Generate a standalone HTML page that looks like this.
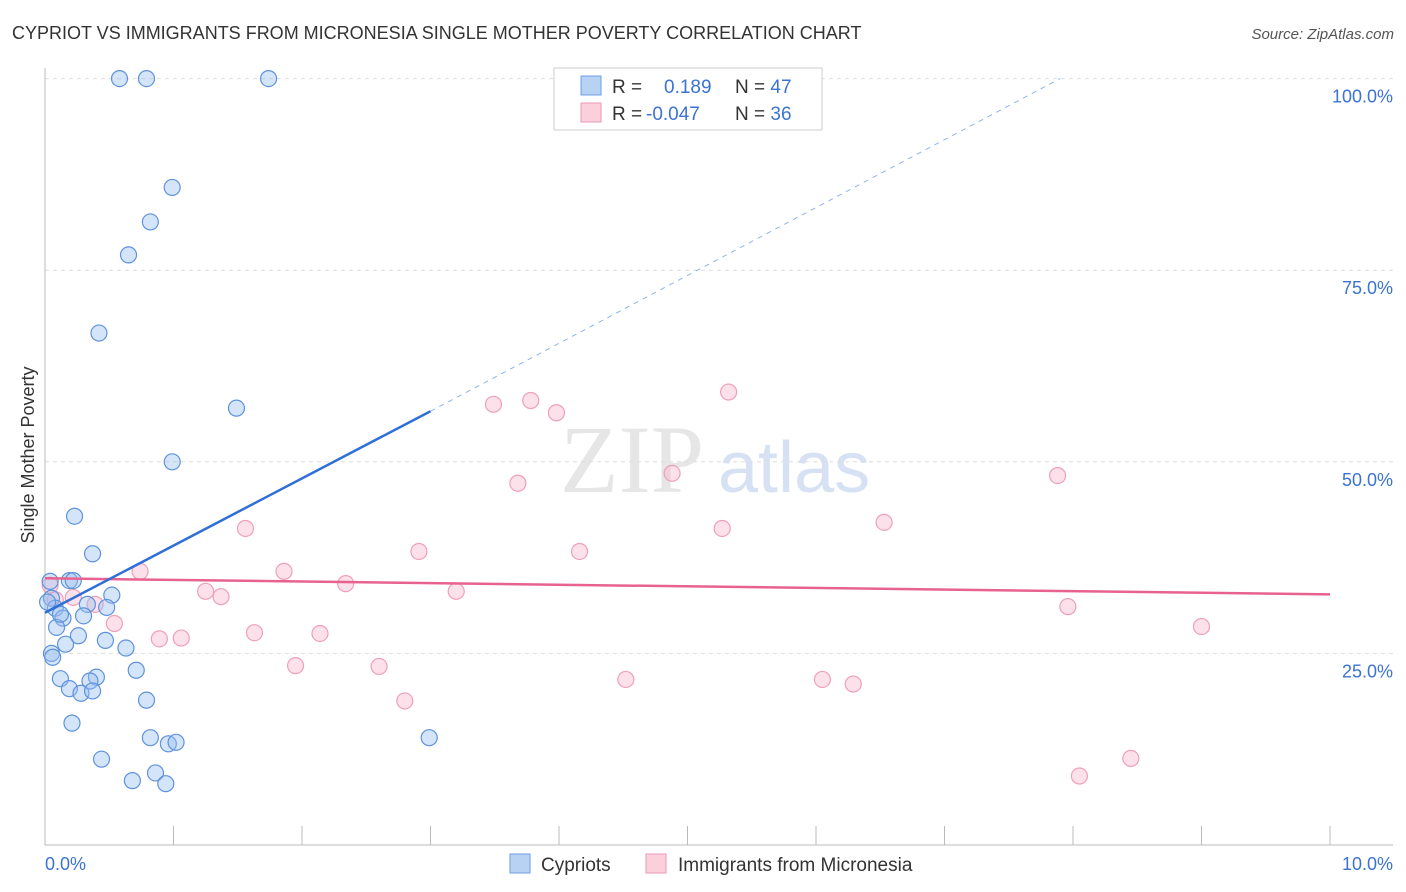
<!DOCTYPE html>
<html><head><meta charset="utf-8"><style>
body{margin:0;background:#fff;font-family:"Liberation Sans",sans-serif;}
svg{display:block}
</style></head><body>
<svg id="chart" width="1406" height="892">
<text x="12" y="39" font-size="18" fill="#333">CYPRIOT VS IMMIGRANTS FROM MICRONESIA SINGLE MOTHER POVERTY CORRELATION CHART</text>
<text x="1394" y="39" font-size="15" fill="#555" font-style="italic" text-anchor="end">Source: ZipAtlas.com</text>
<text transform="translate(34,455) rotate(-90)" font-size="18" fill="#333" text-anchor="middle">Single Mother Poverty</text>
<text x="560" y="492" font-size="96" fill="#e6e6e6" font-family="Liberation Serif,serif">ZIP</text>
<text x="718" y="492" font-size="72" fill="#d6e2f3">atlas</text>
<g id="grid"></g><g id="marks"></g>
<g>
<rect x="554" y="68" width="268" height="62" fill="#fff" stroke="#ccc"/>
<rect x="581" y="76" width="20" height="19" fill="#b8d2f4" stroke="#6f9fe0"/>
<rect x="581" y="103" width="20" height="19" fill="#fbcfdc" stroke="#ee9ab4"/>
<text x="612" y="93" font-size="19" fill="#333">R = <tspan x="664" fill="#3b73d1">0.189</tspan><tspan x="735" fill="#333">N = </tspan><tspan fill="#3b73d1">47</tspan></text>
<text x="612" y="120" font-size="19" fill="#333">R = <tspan x="646" fill="#3b73d1">-0.047</tspan><tspan x="735" fill="#333">N = </tspan><tspan fill="#3b73d1">36</tspan></text>
</g>
<g>
<rect x="510" y="854" width="20" height="19" fill="#b8d2f4" stroke="#6f9fe0"/>
<text x="541" y="871" font-size="19" fill="#333">Cypriots</text>
<rect x="646" y="854" width="20" height="19" fill="#fbcfdc" stroke="#ee9ab4"/>
<text x="678" y="871" font-size="19" fill="#333">Immigrants from Micronesia</text>
</g>
</svg>
<script>
const xTicks=[0,1,2,3,4,5,6,7,8,9,10];
const yTicks=[25,50,75,100];
const blueX=[0.58,0.79,1.74,0.99,0.82,0.65,0.42,1.49,0.99,0.23,0.37,0.19,0.22,0.05,0.52,0.33,0.48,0.08,0.30,0.14,0.09,0.26,0.47,0.16,0.63,0.05,0.06,0.71,0.40,0.12,0.35,0.19,0.28,0.37,0.79,0.21,0.82,2.99,0.96,1.02,0.44,0.86,0.68,0.94,0.02,0.04,0.12];
const blueY=[100,100,100,85.8,81.3,77,66.8,57,50,42.9,38,34.5,34.5,32.2,32.6,31.4,31,30.9,29.9,29.6,28.4,27.3,26.7,26.2,25.7,25,24.5,22.8,21.9,21.7,21.4,20.4,19.8,20.1,18.9,15.9,14,14,13.2,13.4,11.2,9.4,8.4,8,31.7,34.4,30.1];
const pinkX=[0.04,0.08,0.22,0.39,0.54,0.74,0.89,1.06,1.25,1.37,1.56,1.63,1.86,1.95,2.14,2.34,2.6,2.8,2.91,3.2,3.49,3.68,3.78,3.98,4.16,4.52,4.88,5.27,5.32,6.05,6.29,6.53,7.88,7.96,8.05,8.45,9.0];
const pinkY=[33.9,32,32.3,31.4,28.9,35.7,26.9,27,33.1,32.4,41.3,27.7,35.7,23.4,27.6,34.1,23.3,18.8,38.3,33.1,57.5,47.2,58,56.4,38.3,21.6,48.5,41.3,59.1,21.6,21,42.1,48.2,31.1,9,11.3,28.5];
const blueTrend=[[0,30.3],[3,56.6]], blueDash=[[3,56.6],[7.9,100]];
const pinkTrend=[[0,34.8],[10,32.7]];
const X=v=>45+v*128.5, Y=v=>845-v*7.664;
const NS='http://www.w3.org/2000/svg';
const g=document.getElementById('grid'), m=document.getElementById('marks');
function mk(p,tag,a){const e=document.createElementNS(NS,tag);for(const k in a)e.setAttribute(k,a[k]);p.appendChild(e);return e;}
yTicks.forEach(t=>{
 const l=mk(g,'line',{x1:45,x2:1393,y1:Y(t),y2:Y(t),stroke:'#ddd','stroke-dasharray':'4,4'});
 
 
 const tx=mk(g,'text',{x:1393,y:Y(t)+24,'font-size':18,fill:'#3b73d1','text-anchor':'end'});tx.textContent=t.toFixed(1)+'%';
 
 
});
const ya=mk(g,'line',{x1:45,x2:45,y1:68,y2:845,stroke:'#bbb'});


const xa=mk(g,'line',{x1:45,x2:1393,y1:845,y2:845,stroke:'#bbb'});


xTicks.forEach(t=>{
 const l=mk(g,'line',{x1:X(t),x2:X(t),y1:826,y2:845,stroke:'#bbb'});
 
 
});
[[0,'0.0%','start',45],[10,'10.0%','end',1393]].forEach(d=>{
 const tx=mk(g,'text',{x:d[3],y:870,'font-size':18,fill:'#3b73d1','text-anchor':d[2]});tx.textContent=d[1];
 
 
});
pinkX.forEach((v,i)=>{
 const c=mk(m,'circle',{cx:X(v),cy:Y(pinkY[i]),r:8,fill:'rgba(247,170,195,0.35)',stroke:'#eea0b8','stroke-width':1.2});
 
 
});
blueX.forEach((v,i)=>{
 const c=mk(m,'circle',{cx:X(v),cy:Y(blueY[i]),r:8,fill:'rgba(150,190,240,0.4)',stroke:'#5f92dc','stroke-width':1.2});
 
 
});
const pt=mk(m,'line',{x1:X(pinkTrend[0][0]),y1:Y(pinkTrend[0][1]),x2:X(pinkTrend[1][0]),y2:Y(pinkTrend[1][1]),stroke:'#e8628f','stroke-width':2.5});


const bt=mk(m,'line',{x1:X(blueTrend[0][0]),y1:Y(blueTrend[0][1]),x2:X(blueTrend[1][0]),y2:Y(blueTrend[1][1]),stroke:'#2f6fd6','stroke-width':2.5});


const bd=mk(m,'line',{x1:X(blueDash[0][0]),y1:Y(blueDash[0][1]),x2:X(blueDash[1][0]),y2:Y(blueDash[1][1]),stroke:'#8fb3e8','stroke-width':1,'stroke-dasharray':'5,5'});


</script>
</body></html>
